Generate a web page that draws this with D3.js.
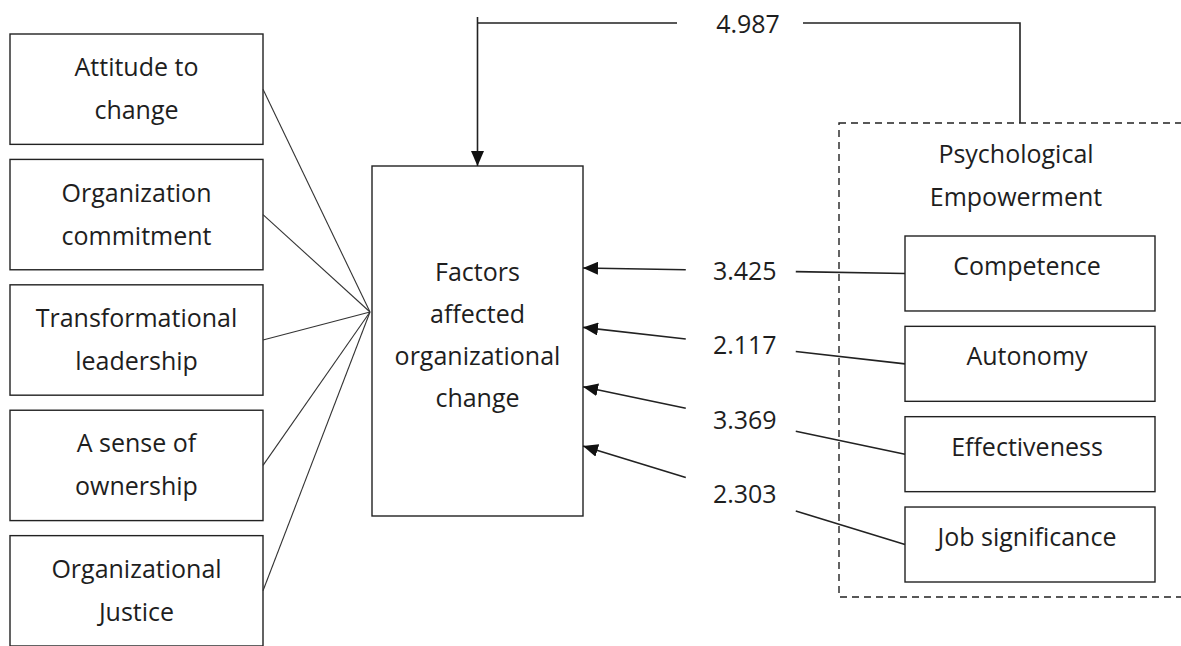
<!DOCTYPE html>
<html>
<head>
<meta charset="utf-8">
<script src="https://cdn.jsdelivr.net/npm/d3@7"></script>
<style>
  html, body { margin: 0; padding: 0; background: #fff; }
  svg { display: block; }
  text { font-family: "Open Sans", sans-serif; font-size: 25px; fill: #1e1e1e; }
</style>
</head>
<body>
<svg id="chart" width="1181" height="646"></svg>
<script>
// data
const factors = [
  ["Attitude to", "change"],
  ["Organization", "commitment"],
  ["Transformational", "leadership"],
  ["A sense of", "ownership"],
  ["Organizational", "Justice"]
];
const centerLabel = ["Factors", "affected", "organizational", "change"];
const groupLabel = ["Psychological", "Empowerment"];
const dimensions = ["Competence", "Autonomy", "Effectiveness", "Job significance"];
const coefficients = [3.425, 2.117, 3.369, 2.303];
const totalEffect = 4.987;

const W = 1181, H = 646;
const svg = d3.select("#chart");
const ink = "#222";

svg.append("rect").attr("width", W).attr("height", H).attr("fill", "#fff");

svg.append("defs").append("marker")
  .attr("id", "head")
  .attr("viewBox", "0 0 10 10")
  .attr("refX", 10).attr("refY", 5)
  .attr("markerUnits", "userSpaceOnUse")
  .attr("markerWidth", 15).attr("markerHeight", 13)
  .attr("preserveAspectRatio", "none")
  .attr("orient", "auto")
  .append("path").attr("d", "M0,0L10,5L0,10z").attr("fill", "#111");

// layout scales
let leftX = 10, leftW = 253;
let yLeft = d3.scaleBand().domain(d3.range(factors.length))
  .range([34, 646]).paddingInner(0.12);

let mid = { x0: 372, x1: 583, y0: 166, y1: 516 };
let hub = [370, 312];

let rightX0 = 905, rightX1 = 1155;
let yRight = d3.scaleBand().domain(dimensions)
  .range([236, 582]).paddingInner(0.17);
let yTip = d3.scalePoint().domain(dimensions).range([268, 446]);

let group = { x0: 839, x1: 1200, y0: 123, y1: 597, cx: 1018 };
let topY = 23;

// left boxes
let lb = svg.append("g").selectAll("g").data(factors).enter().append("g");
lb.append("rect")
  .attr("x", leftX).attr("y", (d, i) => yLeft(i))
  .attr("width", leftW).attr("height", yLeft.bandwidth())
  .attr("fill", "none").attr("stroke", ink).attr("stroke-width", 1.4);
lb.each(function(d, i) {
  let c = yLeft(i) + yLeft.bandwidth() / 2;
  d3.select(this).selectAll("text").data(d).enter().append("text")
    .attr("x", leftX + leftW / 2)
    .attr("y", (t, j) => c - 13 + j * 43)
    .attr("text-anchor", "middle")
    .text(t => t);
});

// lines into hub
svg.append("g").selectAll("line").data(factors).enter().append("line")
  .attr("x1", leftX + leftW)
  .attr("y1", (d, i) => yLeft(i) + yLeft.bandwidth() / 2)
  .attr("x2", hub[0]).attr("y2", hub[1])
  .attr("stroke", "#333").attr("stroke-width", 1.1);

// center box
svg.append("rect")
  .attr("x", mid.x0).attr("y", mid.y0)
  .attr("width", mid.x1 - mid.x0).attr("height", mid.y1 - mid.y0)
  .attr("fill", "none").attr("stroke", ink).attr("stroke-width", 1.4);
let mcy = (mid.y0 + mid.y1) / 2;
svg.append("g").selectAll("text").data(centerLabel).enter().append("text")
  .attr("x", (mid.x0 + mid.x1) / 2)
  .attr("y", (d, i) => mcy + (i - 1.5) * 42.3 + 3)
  .attr("text-anchor", "middle")
  .text(d => d);

// dashed group
svg.append("rect")
  .attr("x", group.x0).attr("y", group.y0)
  .attr("width", group.x1 - group.x0).attr("height", group.y1 - group.y0)
  .attr("fill", "none").attr("stroke", ink).attr("stroke-width", 1.4)
  .attr("stroke-dasharray", "7,5");
svg.append("g").selectAll("text").data(groupLabel).enter().append("text")
  .attr("x", group.cx - 2)
  .attr("y", (d, i) => 163 + i * 43)
  .attr("text-anchor", "middle")
  .text(d => d);

// right boxes
let rb = svg.append("g").selectAll("g").data(dimensions).enter().append("g");
rb.append("rect")
  .attr("x", rightX0).attr("y", d => yRight(d))
  .attr("width", rightX1 - rightX0).attr("height", yRight.bandwidth())
  .attr("fill", "#fff").attr("stroke", ink).attr("stroke-width", 1.4);
rb.append("text")
  .attr("x", (rightX0 + rightX1) / 2 - 3)
  .attr("y", d => yRight(d) + 39)
  .attr("text-anchor", "middle")
  .text(d => d);

// coefficient arrows: one straight line, broken for its label
let links = dimensions.map((d, i) => {
  let tip = [mid.x1, yTip(d)];
  let end = [rightX0, yRight(d) + yRight.bandwidth() / 2];
  let dx = end[0] - tip[0], dy = end[1] - tip[1];
  let t = 0.49, g = 55 / dx;
  let at = s => [tip[0] + dx * s, tip[1] + dy * s];
  return { tip, end, lab: at(t), a: at(t - g), b: at(t + g), value: coefficients[i] };
});
let ar = svg.append("g").selectAll("g").data(links).enter().append("g");
ar.append("line")
  .attr("x1", d => d.a[0]).attr("y1", d => d.a[1])
  .attr("x2", d => d.tip[0]).attr("y2", d => d.tip[1])
  .attr("stroke", ink).attr("stroke-width", 1.6)
  .attr("marker-end", "url(#head)");
ar.append("line")
  .attr("x1", d => d.b[0]).attr("y1", d => d.b[1])
  .attr("x2", d => d.end[0]).attr("y2", d => d.end[1])
  .attr("stroke", ink).attr("stroke-width", 1.6);
ar.append("text")
  .attr("x", d => d.lab[0] + 4).attr("y", d => d.lab[1] + 9)
  .attr("text-anchor", "middle")
  .text(d => d3.format(".3f")(d.value));

// overall effect from the group to the center box
let topLabelX = 748;
let midCx = (mid.x0 + mid.x1) / 2;
svg.append("path")
  .attr("d", `M${group.cx + 2},${group.y0}V${topY}H${topLabelX + 55}`)
  .attr("fill", "none").attr("stroke", ink).attr("stroke-width", 1.6);
svg.append("path")
  .attr("d", `M${topLabelX - 71},${topY}H${midCx}M${midCx},${topY - 6}V${mid.y0}`)
  .attr("fill", "none").attr("stroke", ink).attr("stroke-width", 1.6)
  .attr("marker-end", "url(#head)");
svg.append("text")
  .attr("x", topLabelX).attr("y", topY + 9.5)
  .attr("text-anchor", "middle")
  .text(d3.format(".3f")(totalEffect));
</script>
</body>
</html>
